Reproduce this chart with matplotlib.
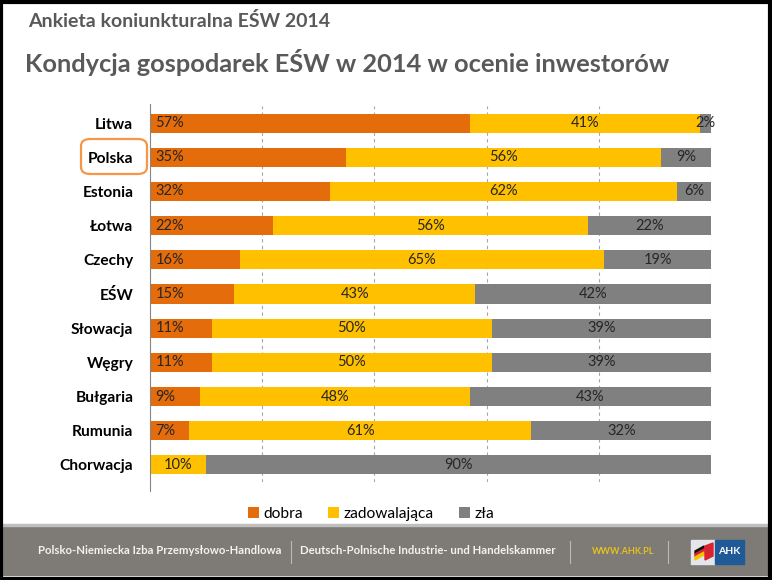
import numpy as np
import matplotlib.pyplot as plt
from matplotlib.patches import Rectangle, FancyBboxPatch, Polygon

# dane z wykresu
kraje = ['Litwa', 'Polska', 'Estonia', 'Łotwa', 'Czechy', 'EŚW', 'Słowacja',
         'Węgry', 'Bułgaria', 'Rumunia', 'Chorwacja']
dobra = [57, 35, 32, 22, 16, 15, 11, 11, 9, 7, 0]
zadowalajaca = [41, 56, 62, 56, 65, 43, 50, 50, 48, 61, 10]
zla = [2, 9, 6, 22, 19, 42, 39, 39, 43, 32, 90]
legenda = ['dobra', 'zadowalająca', 'zła']
kolory = ['#E46C0A', '#FFC000', '#808080']

plt.rcParams['font.family'] = ['Lato', 'DejaVu Sans']

W, H = 772, 580
fig = plt.figure(figsize=(W / 100, H / 100), dpi=100)

def fx(px):
    return px / W

def fy(py):
    return 1 - py / H

ax = fig.add_axes([fx(150), fy(482), fx(711) - fx(150), fy(106) - fy(482)])

y = np.arange(len(kraje))
d = np.array(dobra)
z = np.array(zadowalajaca)
s = np.array(zla)

b1 = ax.barh(y, d, height=0.56, color=kolory[0], label=legenda[0])
b2 = ax.barh(y, z, left=d, height=0.56, color=kolory[1], label=legenda[1])
b3 = ax.barh(y, s, left=d + z, height=0.56, color=kolory[2], label=legenda[2])

txt = '#262626'
for i, v in enumerate(dobra):
    if v > 0:
        ax.text(1.0, i, f'{v}%', ha='left', va='center', fontsize=10.5, color=txt)
ax.bar_label(b2, labels=[f'{v}%' for v in zadowalajaca], label_type='center',
             fontsize=10.5, color=txt)
ax.bar_label(b3, labels=[f'{v}%' for v in zla], label_type='center',
             fontsize=10.5, color=txt)

ax.set_xlim(0, 100)
ax.set_ylim(len(kraje) - 0.5, -0.5)
ax.set_yticks(y)
ax.set_yticklabels(kraje, fontsize=11.2, fontweight='bold', color='black')
ax.tick_params(axis='y', length=0, pad=12)
ax.set_xticks([])
for x in [20, 40, 60, 80, 100]:
    ax.axvline(x, color='#a6a6a6', lw=0.8, ls=(0, (3, 3)), zorder=0)
for sp in ['top', 'right', 'bottom']:
    ax.spines[sp].set_visible(False)
ax.spines['left'].set_color('#868686')
ax.spines['left'].set_bounds(-0.55, 10.75)
ax.set_axisbelow(True)

# ramka wokol Polski
fig.patches.append(FancyBboxPatch((fx(81), fy(174)), fx(147) - fx(81), fy(139) - fy(174),
                                  boxstyle='round,pad=0,rounding_size=0.012',
                                  transform=fig.transFigure, fill=False,
                                  edgecolor='#F79646', lw=1.6))

# tytuly
fig.text(fx(28), fy(21), 'Ankieta koniunkturalna EŚW 2014', fontsize=14,
         fontweight='bold', color='#595959', va='center', ha='left')
fig.text(fx(25), fy(62), 'Kondycja gospodarek EŚW w 2014 w ocenie inwestorów',
         fontsize=18.3, fontweight='bold', color='#595959', va='center', ha='left')

# legenda
fig.legend(handles=[b1, b2, b3], labels=legenda, loc='center',
           bbox_to_anchor=(fx(371), fy(514)), ncol=3, frameon=False,
           fontsize=11.2, handlelength=0.7, handleheight=0.7,
           handletextpad=0.3, columnspacing=1.6)

# stopka
fig.patches.append(Rectangle((0, fy(575)), 1, fy(525) - fy(575),
                             transform=fig.transFigure, color='#7e7a76', zorder=0))
fig.patches.append(Rectangle((0, fy(526)), 1, fy(524) - fy(526),
                             transform=fig.transFigure, color='#bfbfbf', zorder=0))
fig.text(fx(38), fy(551), 'Polsko-Niemiecka Izba Przemysłowo-Handlowa', fontsize=8.2,
         fontweight='bold', color='#f2f2f2', va='center', ha='left')
fig.text(fx(300), fy(551), 'Deutsch-Polnische Industrie- und Handelskammer', fontsize=8.2,
         fontweight='bold', color='#f2f2f2', va='center', ha='left')
fig.text(fx(592), fy(551), 'WWW.AHK.PL', fontsize=6.5, fontweight='bold',
         color='#e8c21a', va='center', ha='left')
for sx in [291, 570, 668]:
    fig.add_artist(plt.Line2D([fx(sx), fx(sx)], [fy(541), fy(563)],
                              transform=fig.transFigure, color='#bdbab6', lw=0.8))

# logo AHK
fig.patches.append(Rectangle((fx(691), fy(564)), fx(715) - fx(691), fy(540) - fy(564),
                             transform=fig.transFigure, color='#e4e6ec'))
fig.patches.append(Rectangle((fx(715), fy(564)), fx(744) - fx(715), fy(540) - fy(564),
                             transform=fig.transFigure, color='#1f5a96'))
for kol, off in [('#111111', 0), ('#d9232e', 3), ('#f2c500', 6)]:
    fig.patches.append(Polygon([(fx(695), fy(551 + off)), (fx(704), fy(546 + off)),
                                (fx(704), fy(549 + off)), (fx(695), fy(554 + off))],
                               closed=True, transform=fig.transFigure, color=kol))
fig.patches.append(Polygon([(fx(705), fy(546)), (fx(713), fy(543)), (fx(713), fy(556)),
                            (fx(705), fy(560))], closed=True,
                           transform=fig.transFigure, color='#d9232e'))
fig.text(fx(729), fy(551), 'AHK', fontsize=7.5, fontweight='bold', color='white',
         va='center', ha='center')

# obramowanie
fig.patches.append(Rectangle((0.001, 0.002), 0.997, 0.995, transform=fig.transFigure,
                             fill=False, edgecolor='black', lw=3))

fig.savefig('out.png', dpi=100)
